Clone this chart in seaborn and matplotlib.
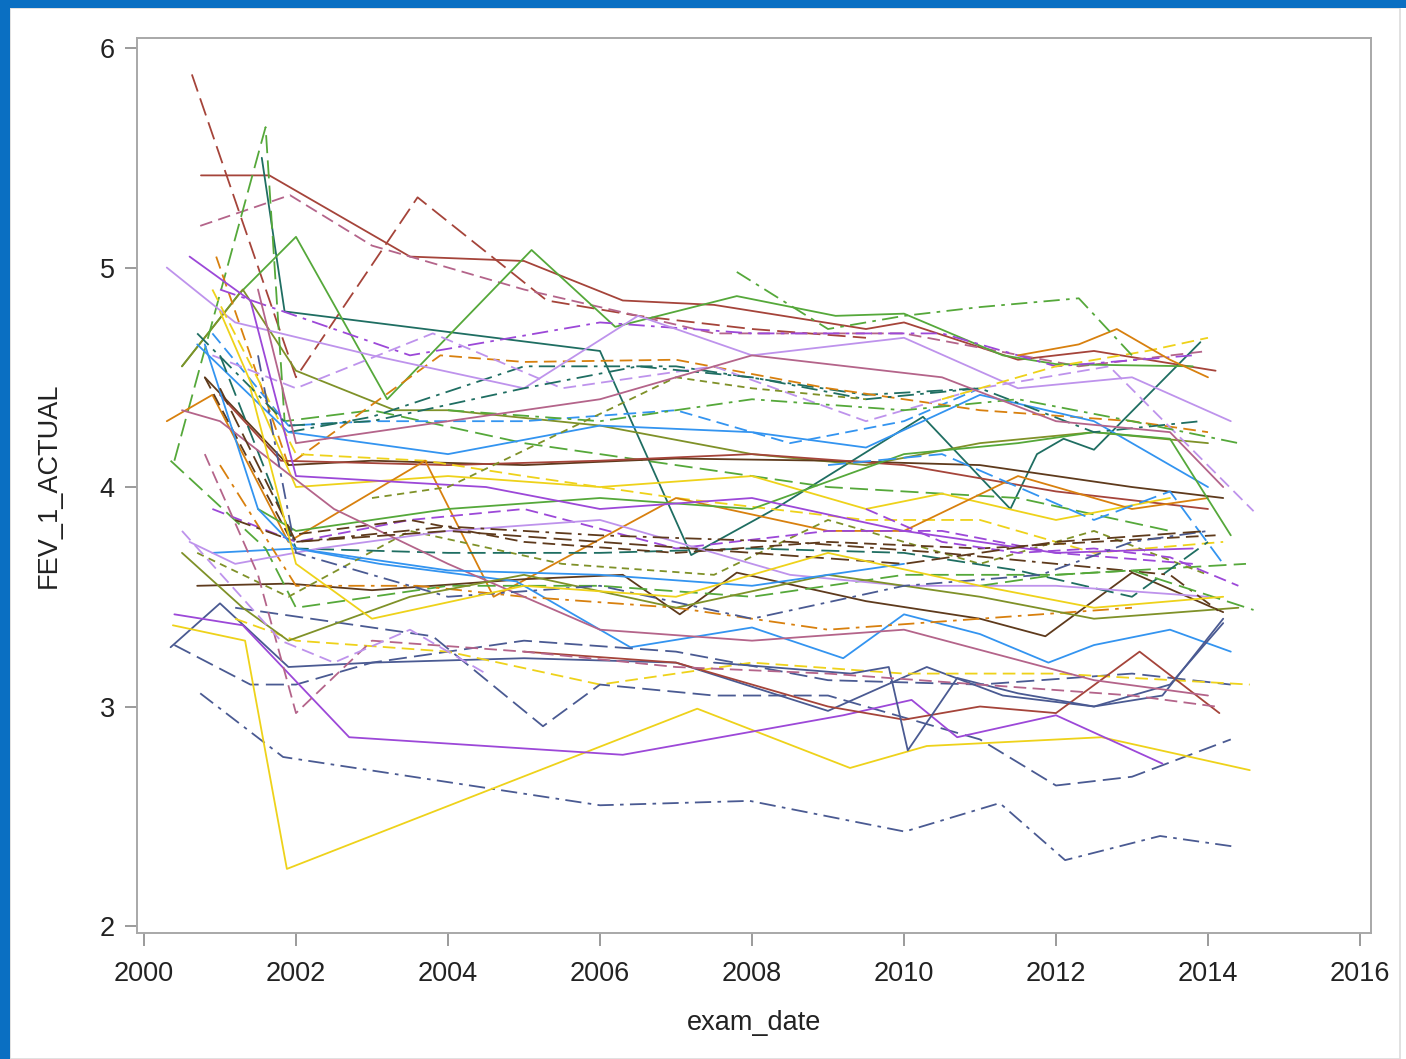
import numpy as np
import pandas as pd
import matplotlib
matplotlib.use("Agg")
import matplotlib.pyplot as plt
from matplotlib.patches import Rectangle
import seaborn as sns

# Per-subject FEV1 measurements over exam dates (decimal years)
s01_x = [2000.63, 2002.0, 2003.6, 2005.3, 2006.5, 2008.0, 2009.5]
s01_y = [5.88, 4.5, 5.32, 4.85, 4.78, 4.72, 4.68]
s02_x = [2000.75, 2001.65, 2003.5, 2005.0, 2006.3, 2007.5, 2009.5, 2010.0, 2011.5, 2012.5, 2014.1]
s02_y = [5.42, 5.42, 5.05, 5.03, 4.85, 4.83, 4.72, 4.75, 4.58, 4.62, 4.53]
s03_x = [2000.74, 2001.92, 2003.0, 2005.0, 2007.5, 2010.0, 2012.3, 2014.0]
s03_y = [5.19, 5.33, 5.1, 4.9, 4.7, 4.7, 4.55, 4.62]
s04_x = [2001.55, 2001.85, 2006.0, 2007.2, 2008.3, 2010.25, 2011.4, 2011.75, 2012.1, 2012.5, 2013.9]
s04_y = [5.5, 4.8, 4.62, 3.69, 3.9, 4.32, 3.9, 4.15, 4.22, 4.17, 4.66]
s05_x = [2000.5, 2001.25, 2002.0, 2003.2, 2005.1, 2006.2, 2007.8, 2009.1, 2010.0, 2011.3, 2012.0, 2013.8]
s05_y = [4.55, 4.88, 5.14, 4.4, 5.08, 4.73, 4.87, 4.78, 4.79, 4.6, 4.56, 4.55]
s06_x = [2000.5, 2001.3, 2002.0, 2003.3, 2004.0, 2006.0, 2008.0, 2009.5, 2011.0, 2012.5, 2014.0]
s06_y = [4.55, 4.9, 4.53, 4.35, 4.35, 4.28, 4.15, 4.1, 4.2, 4.25, 4.2]
s07_x = [2000.4, 2001.6, 2001.85, 2003.0, 2005.0, 2007.0, 2009.0, 2011.5, 2013.5]
s07_y = [4.12, 5.64, 4.3, 4.35, 4.2, 4.1, 4.0, 3.95, 3.8]
s08_x = [2000.9, 2001.9, 2003.0, 2005.0, 2007.0, 2008.5, 2010.0, 2011.0]
s08_y = [4.7, 4.28, 4.3, 4.3, 4.35, 4.2, 4.3, 4.45]
s09_x = [2001.9, 2003.0, 2005.0, 2007.0, 2009.5, 2011.0]
s09_y = [4.25, 4.32, 4.55, 4.55, 4.42, 4.45]
s10_x = [2000.95, 2001.9, 2003.9, 2005.0, 2007.0, 2009.0, 2011.0, 2013.0, 2014.0]
s10_y = [5.05, 4.1, 4.6, 4.57, 4.58, 4.45, 4.35, 4.3, 4.25]
s11_x = [2001.0, 2003.5, 2006.0, 2008.0, 2010.5, 2012.0, 2013.8]
s11_y = [4.9, 4.6, 4.75, 4.7, 4.7, 4.55, 4.6]
s12_x = [2000.3, 2001.2, 2003.0, 2005.0, 2006.5, 2008.0, 2010.0, 2011.5, 2013.0, 2014.3]
s12_y = [5.0, 4.75, 4.6, 4.45, 4.78, 4.6, 4.68, 4.45, 4.5, 4.3]
s13_x = [2000.9, 2002.0, 2003.8, 2005.5, 2007.5, 2009.5, 2011.0, 2012.7, 2014.6]
s13_y = [4.6, 4.45, 4.7, 4.45, 4.55, 4.3, 4.45, 4.55, 3.89]
s14_x = [2000.7, 2001.9, 2004.0, 2006.0, 2008.0, 2009.5, 2011.0, 2012.5, 2014.0]
s14_y = [4.65, 4.25, 4.15, 4.28, 4.25, 4.18, 4.42, 4.3, 4.0]
s15_x = [2000.8, 2001.9, 2003.0, 2005.0, 2007.0, 2009.0, 2011.0, 2013.0, 2014.2]
s15_y = [4.5, 4.1, 4.12, 4.1, 4.13, 4.12, 4.1, 4.0, 3.95]
s16_x = [2001.0, 2001.8, 2004.0, 2006.0, 2008.0, 2010.0, 2012.0, 2014.0]
s16_y = [4.42, 4.12, 4.1, 4.12, 4.15, 4.1, 3.98, 3.9]
s17_x = [2000.9, 2002.0, 2003.7, 2005.0, 2007.0, 2009.5, 2011.0, 2012.5, 2014.2]
s17_y = [4.9, 4.15, 4.12, 4.05, 3.95, 3.85, 3.85, 3.7, 3.75]
s18_x = [2001.0, 2002.0, 2004.0, 2006.0, 2008.0, 2009.5, 2010.5, 2012.0, 2013.5]
s18_y = [4.8, 4.0, 4.05, 4.0, 4.05, 3.9, 3.97, 3.85, 3.95]
s19_x = [2000.3, 2000.9, 2001.9, 2003.7, 2004.6, 2007.0, 2009.0, 2010.0, 2011.5, 2013.0, 2014.0]
s19_y = [4.3, 4.42, 3.75, 4.12, 3.5, 3.95, 3.8, 3.8, 4.05, 3.9, 3.95]
s20_x = [2000.7, 2001.9, 2003.0, 2005.0, 2006.3, 2007.05, 2007.8, 2009.5, 2011.0, 2011.86, 2013.0, 2014.2]
s20_y = [3.55, 3.56, 3.53, 3.58, 3.6, 3.42, 3.61, 3.48, 3.4, 3.32, 3.61, 3.43]
s21_x = [2000.9, 2002.0, 2003.1, 2004.9, 2006.4, 2008.0, 2009.2, 2010.0, 2011.0, 2011.9, 2012.5, 2013.5, 2014.3]
s21_y = [3.7, 3.72, 3.65, 3.57, 3.27, 3.36, 3.22, 3.42, 3.33, 3.2, 3.28, 3.35, 3.25]
s22_x = [2000.35, 2001.0, 2001.9, 2003.0, 2005.0, 2007.0, 2009.0, 2010.3, 2011.3, 2012.5, 2013.5, 2014.2]
s22_y = [3.27, 3.47, 3.18, 3.2, 3.22, 3.2, 2.98, 3.18, 3.05, 3.0, 3.1, 3.38]
s23_x = [2000.4, 2001.4, 2002.0, 2003.0, 2005.0, 2007.0, 2009.0, 2011.0, 2013.0, 2014.3]
s23_y = [3.28, 3.1, 3.1, 3.2, 3.3, 3.25, 3.12, 3.1, 3.15, 3.1]
s24_x = [2001.2, 2002.0, 2004.0, 2006.0, 2008.0, 2010.0, 2012.0, 2014.55]
s24_y = [3.4, 3.3, 3.25, 3.1, 3.2, 3.15, 3.15, 3.1]
s25_x = [2001.2, 2003.8, 2005.25, 2006.0, 2007.5, 2009.0, 2010.0, 2011.0, 2012.0, 2013.0, 2014.3]
s25_y = [3.45, 3.32, 2.91, 3.1, 3.05, 3.05, 2.95, 2.85, 2.64, 2.68, 2.85]
s26_x = [2000.74, 2001.83, 2006.0, 2007.97, 2010.01, 2011.26, 2012.12, 2013.37, 2014.38]
s26_y = [3.06, 2.77, 2.55, 2.57, 2.43, 2.56, 2.30, 2.41, 2.36]
s27_x = [2000.38, 2001.33, 2001.88, 2007.28, 2009.29, 2010.3, 2012.6, 2014.55]
s27_y = [3.37, 3.30, 2.26, 2.99, 2.72, 2.82, 2.86, 2.71]
s28_x = [2000.4, 2001.3, 2002.7, 2006.3, 2009.2, 2010.1, 2010.7, 2012.0, 2013.4]
s28_y = [3.42, 3.37, 2.86, 2.78, 2.96, 3.03, 2.86, 2.96, 2.74]
s29_x = [2005.0, 2007.0, 2009.0, 2010.0, 2011.0, 2012.0, 2013.1, 2014.15]
s29_y = [3.25, 3.2, 3.0, 2.94, 3.0, 2.97, 3.25, 2.97]
s30_x = [2007.5, 2009.3, 2009.8, 2010.05, 2010.7, 2011.5, 2012.5, 2013.4, 2014.2]
s30_y = [3.2, 3.15, 3.18, 2.8, 3.13, 3.06, 3.0, 3.05, 3.4]
s31_x = [2000.35, 2001.6, 2002.0, 2004.0, 2006.0, 2008.0, 2010.0, 2012.0, 2014.5]
s31_y = [4.12, 3.72, 3.45, 3.55, 3.55, 3.5, 3.6, 3.6, 3.65]
s32_x = [2000.7, 2001.9, 2003.5, 2005.5, 2007.5, 2009.0, 2011.0, 2012.5, 2014.0]
s32_y = [3.7, 3.5, 3.8, 3.65, 3.6, 3.85, 3.65, 3.8, 3.6]
s33_x = [2000.9, 2002.0, 2003.5, 2005.0, 2007.0, 2009.0, 2010.5, 2012.0, 2013.8]
s33_y = [3.9, 3.75, 3.85, 3.9, 3.72, 3.8, 3.8, 3.7, 3.65]
s34_x = [2001.0, 2002.0, 2004.0, 2006.0, 2008.0, 2010.0, 2011.5, 2013.0, 2014.0]
s34_y = [4.6, 3.72, 3.7, 3.7, 3.72, 3.7, 3.62, 3.5, 3.75]
s35_x = [2000.8, 2001.9, 2003.5, 2005.0, 2007.0, 2009.0, 2011.0, 2012.5, 2014.1]
s35_y = [4.5, 3.78, 3.85, 3.75, 3.7, 3.75, 3.72, 3.75, 3.78]
s36_x = [2001.0, 2002.0, 2003.6, 2005.0, 2007.0, 2009.0, 2011.0, 2013.0]
s36_y = [4.1, 3.55, 3.55, 3.5, 3.45, 3.35, 3.4, 3.45]
s37_x = [2001.5, 2002.0, 2004.0, 2006.0, 2008.0, 2009.2, 2010.0, 2011.5, 2012.5, 2013.5, 2014.3]
s37_y = [3.9, 3.8, 3.9, 3.95, 3.9, 4.05, 4.15, 4.2, 4.25, 4.22, 3.78]
s38_x = [2000.6, 2001.4, 2002.0, 2004.5, 2006.0, 2008.0, 2010.0, 2012.0, 2013.8]
s38_y = [5.05, 4.85, 4.05, 4.0, 3.9, 3.95, 3.8, 3.7, 3.72]
s39_x = [2000.6, 2001.2, 2002.3, 2004.0, 2006.0, 2008.5, 2010.0, 2012.0, 2014.0]
s39_y = [3.75, 3.65, 3.72, 3.8, 3.85, 3.6, 3.55, 3.55, 3.5]
s40_x = [2000.5, 2001.0, 2002.5, 2004.0, 2006.0, 2008.0, 2010.0, 2012.5, 2014.0]
s40_y = [4.35, 4.3, 3.9, 3.65, 3.35, 3.3, 3.35, 3.12, 3.05]
s41_x = [2000.8, 2001.5, 2002.0, 2003.0, 2005.0, 2007.0, 2009.0, 2011.0, 2013.0, 2014.1]
s41_y = [4.15, 3.6, 2.97, 3.3, 3.25, 3.18, 3.15, 3.1, 3.05, 3.0]
s42_x = [2000.5, 2001.3, 2001.9, 2003.5, 2005.0, 2007.0, 2009.0, 2011.0, 2012.5, 2014.4]
s42_y = [3.7, 3.45, 3.3, 3.5, 3.6, 3.45, 3.6, 3.5, 3.4, 3.45]
s43_x = [2000.7, 2001.9, 2003.0, 2005.0, 2006.5, 2008.0, 2009.5, 2011.0, 2012.5, 2013.9]
s43_y = [4.7, 4.28, 4.3, 4.45, 4.55, 4.5, 4.4, 4.45, 4.25, 4.3]
s44_x = [2004.0, 2006.0, 2008.0, 2010.0, 2011.5, 2013.0, 2014.4]
s44_y = [4.35, 4.3, 4.4, 4.35, 4.4, 4.3, 4.2]
s45_x = [2010.5, 2012.0, 2013.2, 2014.0]
s45_y = [4.4, 4.55, 4.62, 4.68]
s46_x = [2011.5, 2012.3, 2012.8, 2013.5, 2014.0]
s46_y = [4.6, 4.65, 4.72, 4.58, 4.5]
s47_x = [2009.0, 2010.5, 2011.5, 2012.5, 2013.5, 2014.2]
s47_y = [4.1, 4.15, 4.0, 3.85, 3.98, 3.65]
s48_x = [2009.5, 2010.5, 2011.5, 2012.5, 2013.5, 2014.4]
s48_y = [3.9, 3.75, 3.7, 3.72, 3.68, 3.55]
s49_x = [2001.2, 2002.0, 2004.0, 2006.0, 2008.5, 2010.5, 2012.0, 2013.5, 2014.2]
s49_y = [3.85, 3.75, 3.82, 3.78, 3.75, 3.7, 3.65, 3.6, 3.42]
s50_x = [2011.0, 2012.0, 2013.0, 2014.6]
s50_y = [3.55, 3.6, 3.62, 3.44]
s51_x = [2000.5, 2001.8, 2002.5, 2003.5, 2004.5]
s51_y = [3.8, 3.3, 3.2, 3.35, 3.15]
s52_x = [2003.0, 2004.0, 2005.5, 2007.0, 2008.0, 2009.5]
s52_y = [3.95, 4.0, 4.25, 4.5, 4.45, 4.4]
s53_x = [2001.5, 2002.0, 2004.0, 2006.0, 2008.0, 2010.0, 2011.8, 2013.0, 2014.0]
s53_y = [4.6, 3.7, 3.5, 3.55, 3.4, 3.55, 3.6, 3.75, 3.8]
s54_x = [2001.5, 2002.0, 2004.0, 2006.0, 2008.0, 2010.5, 2012.0, 2013.5, 2014.2]
s54_y = [4.9, 4.2, 4.3, 4.4, 4.6, 4.5, 4.3, 4.25, 4.0]
s55_x = [2000.8, 2001.5, 2002.0, 2004.0, 2006.0, 2008.0, 2010.0]
s55_y = [4.65, 3.9, 3.72, 3.62, 3.6, 3.55, 3.65]
s56_x = [2001.0, 2002.0, 2004.0, 2006.0, 2008.0, 2010.0, 2012.0, 2014.0]
s56_y = [4.45, 3.75, 3.8, 3.75, 3.7, 3.65, 3.75, 3.8]
s57_x = [2001.4, 2002.0, 2003.0, 2005.0, 2007.0, 2009.0, 2011.0, 2012.5, 2014.2]
s57_y = [4.45, 3.65, 3.4, 3.55, 3.5, 3.7, 3.55, 3.45, 3.5]
s58_x = [2007.8, 2009.0, 2010.0, 2011.0, 2012.3, 2013.0]
s58_y = [4.98, 4.72, 4.78, 4.82, 4.86, 4.6]

series_x = [s01_x, s02_x, s03_x, s04_x, s05_x, s06_x, s07_x, s08_x, s09_x, s10_x,
            s11_x, s12_x, s13_x, s14_x, s15_x, s16_x, s17_x, s18_x, s19_x, s20_x,
            s21_x, s22_x, s23_x, s24_x, s25_x, s26_x, s27_x, s28_x, s29_x, s30_x,
            s31_x, s32_x, s33_x, s34_x, s35_x, s36_x, s37_x, s38_x, s39_x, s40_x,
            s41_x, s42_x, s43_x, s44_x, s45_x, s46_x, s47_x, s48_x, s49_x, s50_x,
            s51_x, s52_x, s53_x, s54_x, s55_x, s56_x, s57_x, s58_x]
series_y = [s01_y, s02_y, s03_y, s04_y, s05_y, s06_y, s07_y, s08_y, s09_y, s10_y,
            s11_y, s12_y, s13_y, s14_y, s15_y, s16_y, s17_y, s18_y, s19_y, s20_y,
            s21_y, s22_y, s23_y, s24_y, s25_y, s26_y, s27_y, s28_y, s29_y, s30_y,
            s31_y, s32_y, s33_y, s34_y, s35_y, s36_y, s37_y, s38_y, s39_y, s40_y,
            s41_y, s42_y, s43_y, s44_y, s45_y, s46_y, s47_y, s48_y, s49_y, s50_y,
            s51_y, s52_y, s53_y, s54_y, s55_y, s56_y, s57_y, s58_y]

# Group colours and line patterns, one per subject
C = {
    "slate": "#4A5A92", "red": "#A5443A", "teal": "#1F6E62", "brown": "#5E3A1C",
    "purple": "#9C48D8", "olive": "#7F9128", "blue": "#3394F0", "mauve": "#B4648A",
    "yellow": "#EED21A", "green": "#55A83A", "orange": "#D8800E", "lilac": "#BE93EC",
}
subject_colors = [
    "red", "red", "mauve", "teal", "green", "olive", "green", "blue", "teal", "orange",
    "purple", "lilac", "lilac", "blue", "brown", "red", "yellow", "yellow", "orange", "brown",
    "blue", "slate", "slate", "yellow", "slate", "slate", "yellow", "purple", "red", "slate",
    "green", "olive", "purple", "teal", "brown", "orange", "green", "purple", "lilac", "mauve",
    "mauve", "olive", "teal", "green", "yellow", "orange", "blue", "purple", "brown", "green",
    "lilac", "olive", "slate", "mauve", "blue", "brown", "yellow", "green",
]
DASH = (7, 3.5)
LDASH = (10, 4)
DASHDOT = (9, 3.5, 2, 3.5)
SDASH = (4, 3)
subject_dashes = [
    LDASH, "", DASH, "", "", "", LDASH, DASH, DASHDOT, DASH,
    DASHDOT, "", DASH, "", "", "", DASH, "", "", "",
    "", "", LDASH, DASH, LDASH, DASHDOT, "", "", "", "",
    LDASH, SDASH, DASH, LDASH, DASH, DASHDOT, "", "", "", "",
    DASH, "", DASHDOT, DASHDOT, DASH, "", LDASH, DASH, DASHDOT, LDASH,
    DASH, SDASH, DASHDOT, "", "", LDASH, "", DASHDOT,
]

rows = []
for i, (xs, ys) in enumerate(zip(series_x, series_y)):
    for xv, yv in zip(xs, ys):
        rows.append({"subject": f"P{i + 1:02d}", "exam_date": xv, "FEV_1_ACTUAL": yv})
df = pd.DataFrame(rows)
subjects = [f"P{i + 1:02d}" for i in range(len(series_x))]
palette = {s: C[c] for s, c in zip(subjects, subject_colors)}
dashes = {s: d for s, d in zip(subjects, subject_dashes)}

sns.set_theme(style="white")
plt.rcParams["font.family"] = ["Liberation Sans", "DejaVu Sans"]

W, H = 1406, 1059
fig = plt.figure(figsize=(W / 100, H / 100), dpi=100, facecolor="white")
ax = fig.add_axes([137 / W, 1 - 933 / H, (1371 - 137) / W, (933 - 38) / H])

sns.lineplot(data=df, x="exam_date", y="FEV_1_ACTUAL", hue="subject", style="subject",
             palette=palette, dashes=dashes, hue_order=subjects, style_order=subjects,
             estimator=None, sort=True, legend=False, linewidth=1.3, ax=ax)

ax.set_xlim(1999.908, 2016.145)
ax.set_ylim(1.968, 6.046)
ax.set_xticks([2000, 2002, 2004, 2006, 2008, 2010, 2012, 2014, 2016])
ax.set_yticks([2, 3, 4, 5, 6])
ax.set_xticklabels(["2000", "2002", "2004", "2006", "2008", "2010", "2012", "2014", "2016"])
ax.set_yticklabels(["2", "3", "4", "5", "6"])
for sp in ax.spines.values():
    sp.set_color("#A8A8A8")
    sp.set_linewidth(1.4)
ax.tick_params(axis="both", which="major", direction="out", length=9, width=1.2,
               color="#8A8A8A", labelsize=19.5, labelcolor="#222222", pad=7,
               bottom=True, left=True)
ax.tick_params(axis="x", pad=11)
ax.set_xlabel("exam_date", fontsize=19.5, color="#222222", labelpad=17)
ax.set_ylabel("FEV_1_ACTUAL", fontsize=19.5, color="#222222", labelpad=27)
ax.set_facecolor("white")

# Frame around the figure
fig.patches.append(Rectangle((10 / W, 0), (1400 - 10) / W, 1 - 8 / H, transform=fig.transFigure,
                             fill=False, edgecolor="#DCDCDC", linewidth=1.2, zorder=0))
fig.patches.append(Rectangle((0, 0), 10 / W, 1, transform=fig.transFigure,
                             facecolor="#0A6FC2", edgecolor="none", zorder=5))
fig.patches.append(Rectangle((0, 1 - 8 / H), 1, 8 / H, transform=fig.transFigure,
                             facecolor="#0A6FC2", edgecolor="none", zorder=5))

fig.savefig("out.png", dpi=100, facecolor="white")
